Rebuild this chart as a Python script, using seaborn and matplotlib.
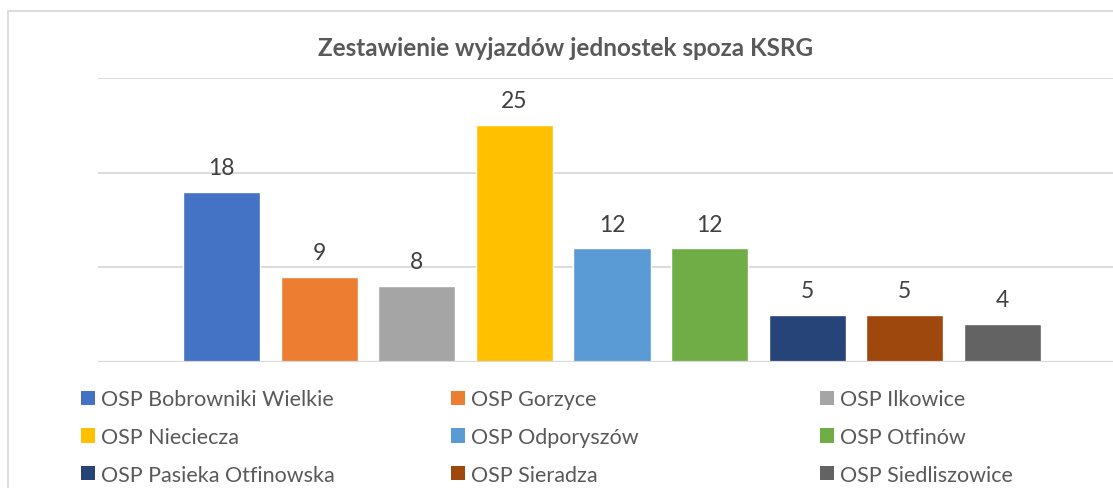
import matplotlib
matplotlib.use("Agg")
import matplotlib.pyplot as plt
import seaborn as sns
from matplotlib.patches import Patch, Rectangle

names = ["OSP Bobrowniki Wielkie", "OSP Gorzyce", "OSP Ilkowice",
         "OSP Nieciecza", "OSP Odporyszów", "OSP Otfinów",
         "OSP Pasieka Otfinowska", "OSP Sieradza", "OSP Siedliszowice"]
values = [18, 9, 8, 25, 12, 12, 5, 5, 4]
colors = ["#4472C4", "#ED7D31", "#A5A5A5", "#FFC000", "#5B9BD5",
          "#70AD47", "#264478", "#9E480E", "#636363"]
title = "Zestawienie wyjazdów jednostek spoza KSRG"

sns.set_theme(style="white")
plt.rcParams["font.family"] = ["Lato", "DejaVu Sans"]

W, H = 1113, 489
fig = plt.figure(figsize=(W / 100, H / 100), dpi=100)
ax = fig.add_axes([98 / W, 126 / H, (1126 - 98) / W, (363 - 79) / H])

sns.barplot(x=names, y=values, hue=names, palette=colors, width=0.79,
            legend=False, ax=ax, saturation=1, zorder=3)

ax.set_ylim(0, 30)
ax.set_xlim(-1.265, 9.265)
for v in [10, 20, 30]:
    ax.axhline(v, color="#D9D9D9", lw=1.3, zorder=1)
ax.axhline(0, color="#D9D9D9", lw=1.6, zorder=4)
for s in ax.spines.values():
    s.set_visible(False)
ax.set_xticks([])
ax.set_yticks([])
ax.set_xlabel("")
ax.set_ylabel("")

for i, v in enumerate(values):
    ax.annotate(str(v), (i, v), xytext=(0, 10), textcoords="offset points",
                ha="center", va="bottom", fontsize=16.5, color="#404040")

# chart frame
fig.add_artist(Rectangle((8 / W, -0.1), 1.2, (H - 12) / H + 0.1,
                         transform=fig.transFigure, fill=False,
                         edgecolor="#D9D9D9", lw=1.3))

fig.text(566 / W, 1 - 48 / H, title, ha="center", va="center",
         fontsize=17.5, fontweight="bold", color="#595959")

# legend: three columns, row-major order
col_x = [81 / W, 451 / W, 820 / W]
for c in range(3):
    idx = [c, c + 3, c + 6]
    handles = [Patch(facecolor=colors[k], edgecolor="none") for k in idx]
    labels = [names[k] for k in idx]
    fig.legend(handles, labels, loc="upper left",
               bbox_to_anchor=(col_x[c], 1 - 390.5 / H),
               frameon=False, fontsize=15.5, labelcolor="#595959",
               handlelength=0.65, handleheight=0.65, handletextpad=0.28,
               labelspacing=0.82, borderpad=0, borderaxespad=0)

fig.savefig("out.png", dpi=100)
